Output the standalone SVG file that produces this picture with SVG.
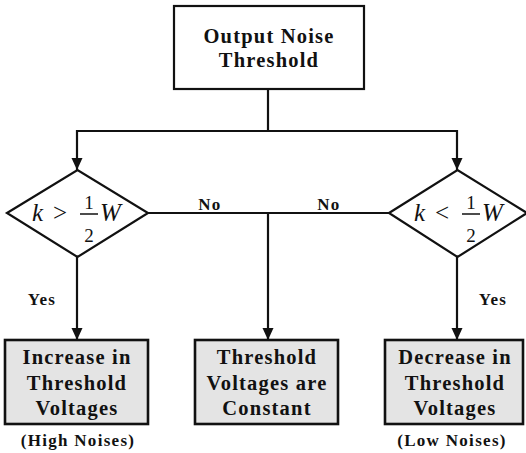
<svg xmlns="http://www.w3.org/2000/svg" width="526" height="453" viewBox="0 0 526 453">
<style>
.box{fill:#ffffff;stroke:#111;stroke-width:2.2}
.gbox{fill:#e4e4e4;stroke:#111;stroke-width:2.6}
.dia{fill:#ffffff;stroke:#111;stroke-width:2.2}
.ln{fill:none;stroke:#111;stroke-width:2.2}
.t{font-family:"Liberation Serif","Times New Roman",serif;font-weight:bold;font-size:20.5px;fill:#111;text-anchor:middle;letter-spacing:1.2px}
.s{font-family:"Liberation Serif","Times New Roman",serif;font-weight:bold;font-size:17px;fill:#111;text-anchor:middle;letter-spacing:1.3px}
.m{font-family:"Liberation Serif","Times New Roman",serif;font-size:25px;fill:#111}
.mi{font-style:italic}
.f{font-family:"Liberation Serif","Times New Roman",serif;font-size:19px;fill:#111;text-anchor:middle}
</style>
<defs>
<marker id="ah" markerWidth="12" markerHeight="12" viewBox="0 0 12 12" refX="12" refY="6" orient="auto" markerUnits="userSpaceOnUse">
<path d="M0,0.5 L12,6 L0,11.5 Z" fill="#111"/>
</marker>
</defs>
<rect width="526" height="453" fill="#ffffff"/>
<g id="connectors">
<line class="ln" x1="268" y1="89" x2="268" y2="131"/>
<line class="ln" x1="76" y1="131" x2="458" y2="131"/>
<line class="ln" x1="77" y1="130" x2="77" y2="170" marker-end="url(#ah)"/>
<line class="ln" x1="457" y1="130" x2="457" y2="170" marker-end="url(#ah)"/>
<line class="ln" x1="77" y1="257" x2="77" y2="340" marker-end="url(#ah)"/>
<line class="ln" x1="457" y1="257" x2="457" y2="340" marker-end="url(#ah)"/>
<line class="ln" x1="148" y1="213" x2="389" y2="213"/>
<line class="ln" x1="268" y1="212" x2="268" y2="340" marker-end="url(#ah)"/>
<text class="s" x="210" y="210">No</text>
<text class="s" x="329" y="210">No</text>
<text class="s" x="42" y="305">Yes</text>
<text class="s" x="493" y="305">Yes</text>
</g>
<g id="top">
<rect class="box" x="174" y="6" width="190" height="83"/>
<text class="t" x="269" y="43">Output Noise</text>
<text class="t" x="269" y="67">Threshold</text>
</g>
<g id="cond-left">
<polygon class="dia" points="7,213 77.5,170 148,213 77.5,257"/>
<text class="m mi" x="32" y="221">k</text>
<text class="m" x="53" y="221">&gt;</text>
<text class="f" x="89" y="209">1</text>
<line x1="80" y1="214" x2="98" y2="214" stroke="#111" stroke-width="1.5"/>
<text class="f" x="89" y="242">2</text>
<text class="m mi" x="100" y="221">W</text>
</g>
<g id="cond-right">
<polygon class="dia" points="389,213 457.5,170 527,213 457.5,257"/>
<text class="m mi" x="414" y="221">k</text>
<text class="m" x="435" y="221">&lt;</text>
<text class="f" x="471" y="209">1</text>
<line x1="462" y1="214" x2="480" y2="214" stroke="#111" stroke-width="1.5"/>
<text class="f" x="471" y="242">2</text>
<text class="m mi" x="482" y="221">W</text>
</g>
<g id="increase">
<rect class="gbox" x="5" y="340" width="143" height="84"/>
<text class="t" x="77" y="364">Increase in</text>
<text class="t" x="77" y="390">Threshold</text>
<text class="t" x="77" y="415">Voltages</text>
<text class="s" x="78" y="446">(High Noises)</text>
</g>
<g id="constant">
<rect class="gbox" x="195" y="340" width="143" height="84"/>
<text class="t" x="267" y="364">Threshold</text>
<text class="t" x="267" y="390">Voltages are</text>
<text class="t" x="267" y="415">Constant</text>
</g>
<g id="decrease">
<rect class="gbox" x="385" y="340" width="138" height="84"/>
<text class="t" x="455" y="364">Decrease in</text>
<text class="t" x="455" y="390">Threshold</text>
<text class="t" x="455" y="415">Voltages</text>
<text class="s" x="452" y="446">(Low Noises)</text>
</g>
</svg>
